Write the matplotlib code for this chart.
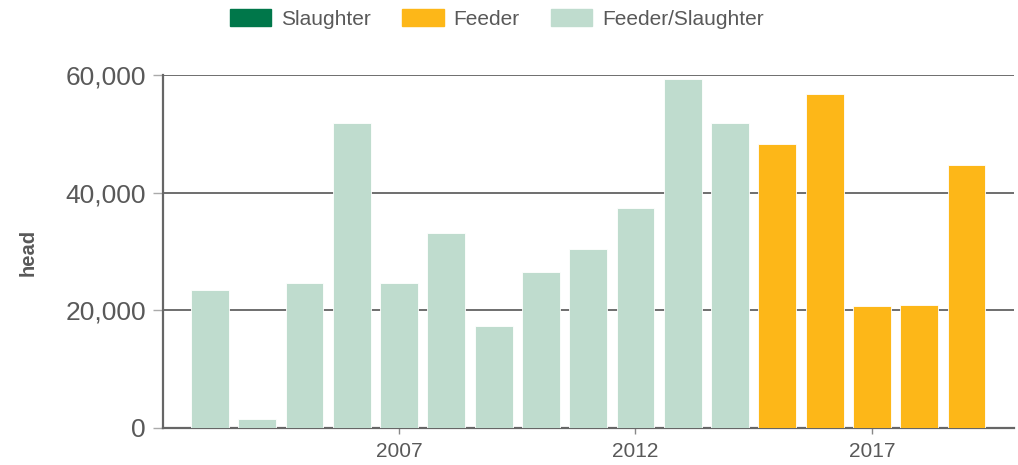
import numpy as np
import matplotlib.pyplot as plt
from matplotlib.patches import Patch
from matplotlib.ticker import FuncFormatter

plt.rcParams["font.family"] = ["Liberation Sans", "DejaVu Sans"]

# ── data (head) ───────────────────────────────────────────────────
years = [2003, 2004, 2005, 2006, 2007, 2008, 2009, 2010, 2011,
         2012, 2013, 2014, 2015, 2016, 2017, 2018, 2019]
slaughter = [None] * 17
feeder = [None, None, None, None, None, None, None, None, None,
          None, None, None, 48250, 56800, 20750, 20900, 44680]
feeder_slaughter = [23450, 1480, 24640, 51930, 24690, 33200, 17370, 26500,
                    30480, 37360, 59370, 51930, None, None, None, None, None]
xticks = [2007, 2012, 2017]
yticks = [0, 20000, 40000, 60000]

series = [("Slaughter", slaughter, "#00774A"),
          ("Feeder", feeder, "#FDB718"),
          ("Feeder/Slaughter", feeder_slaughter, "#BFDCCE")]

txt = "#595959"

fig = plt.figure(figsize=(10.18, 4.65), dpi=100)
ax = fig.add_axes([0.1598, 0.0802, 0.836, 0.758])

for name, vals, col in series:
    v = np.array([np.nan if x is None else x for x in vals], dtype=float)
    ax.bar(years, v, width=0.8, color=col, edgecolor="#ffffff",
           linewidth=0.6, zorder=3)

ax.set_xlim(2002, 2020)
ax.set_ylim(0, 60000)
ax.set_yticks(yticks)
ax.set_xticks(xticks)
ax.yaxis.set_major_formatter(FuncFormatter(lambda v, p: f"{int(v):,}"))
ax.grid(axis="y", color="#555555", linewidth=1.2, zorder=1)
ax.set_axisbelow(True)

for s in ["top", "right"]:
    ax.spines[s].set_visible(False)
for s in ["left", "bottom"]:
    ax.spines[s].set_color("#666666")
    ax.spines[s].set_linewidth(1.6)

ax.tick_params(axis="y", length=7, width=1, color="#aaaaaa", pad=5,
               labelsize=19, labelcolor=txt)
ax.tick_params(axis="x", length=4, width=1, color="#888888", pad=6,
               labelsize=15, labelcolor=txt)

fig.text(28 / 1018, 1 - 252 / 465, "head", rotation=90, ha="center",
         va="center", fontsize=14.5, fontweight="bold", color=txt)

handles = [Patch(facecolor=c, edgecolor=c) for _, _, c in series]
fig.legend(handles, [n for n, _, _ in series], loc="center",
           bbox_to_anchor=(497 / 1018, 1 - 19 / 465), ncol=3, frameon=False,
           fontsize=15, labelcolor=txt, handlelength=1.97, handleheight=0.9,
           handletextpad=0.48, columnspacing=1.5)

plt.savefig("out.png", dpi=100)
